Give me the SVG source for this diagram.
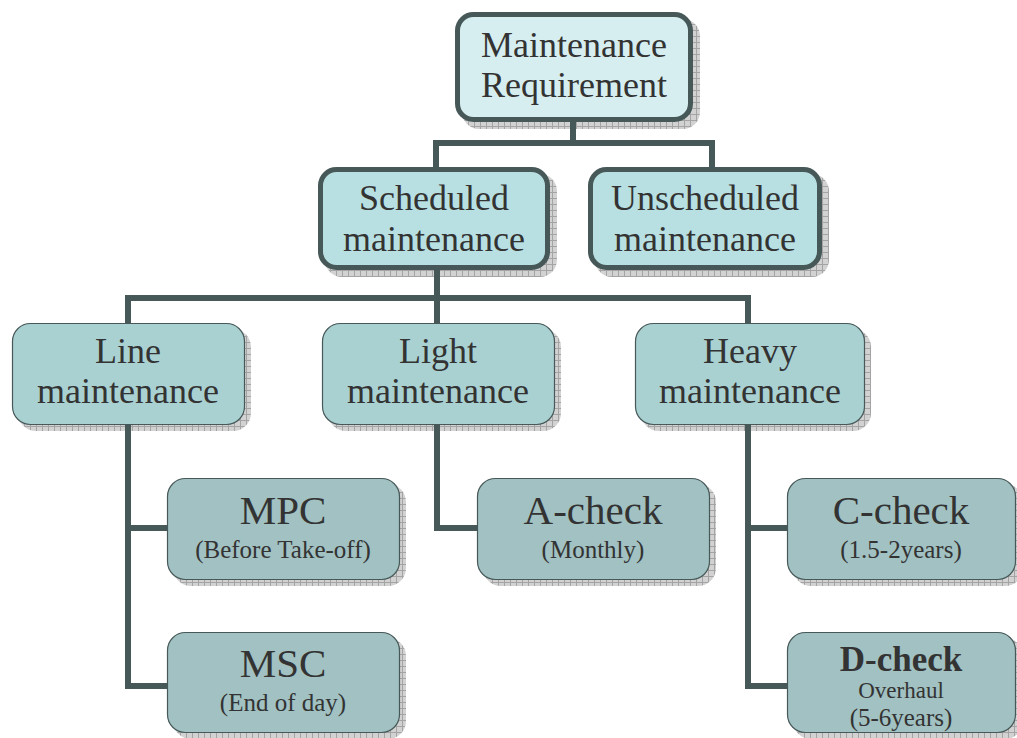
<svg xmlns="http://www.w3.org/2000/svg" width="1017" height="738" viewBox="0 0 1017 738">
  <defs>
    <!-- cross-hatched grey used for the drop shadows -->
    <pattern id="hatch" width="6" height="6" patternUnits="userSpaceOnUse">
      <rect width="6" height="6" fill="#d2d2d2"/>
      <path d="M0 0.5 H6 M0.5 0 V6" stroke="#a4a4a4" stroke-width="1"/>
    </pattern>
    <style>
      .shadow { fill: url(#hatch); }
      .conn { fill: none; stroke: #475858; stroke-width: 6; stroke-linejoin: miter; }
      .lv1 { fill: #d6eef0; stroke: #475858; stroke-width: 5; }
      .lv2 { fill: #b8e0e2; stroke: #475858; stroke-width: 5; }
      .lv3 { fill: #aad1d2; stroke: #475858; stroke-width: 1.2; }
      .lv4 { fill: #a1c1c2; stroke: #475858; stroke-width: 1.2; }
      text { font-family: "Liberation Serif", "Times New Roman", serif; fill: #333333; text-anchor: middle; }
      .t1 { font-size: 36px; }
      .big { font-size: 41px; }
      .sub { font-size: 25px; }
      .small { font-size: 23px; }
      .bold { font-size: 35px; font-weight: bold; }
    </style>
  </defs>

  <rect width="1017" height="738" fill="#ffffff"/>

  <!-- drop shadows, offset down and right -->
  <g id="shadows">
    <rect class="shadow" x="462" y="19" width="238" height="110" rx="17"/>
    <rect class="shadow" x="325" y="174" width="232" height="103" rx="17"/>
    <rect class="shadow" x="595" y="174" width="234" height="103" rx="17"/>
    <rect class="shadow" x="18" y="329" width="233" height="102" rx="18"/>
    <rect class="shadow" x="328" y="329" width="233" height="102" rx="18"/>
    <rect class="shadow" x="641" y="329" width="230" height="102" rx="18"/>
    <rect class="shadow" x="173" y="484" width="233" height="102" rx="18"/>
    <rect class="shadow" x="173" y="638" width="233" height="101" rx="18"/>
    <rect class="shadow" x="483" y="484" width="233" height="102" rx="18"/>
    <rect class="shadow" x="793" y="484" width="230" height="102" rx="18"/>
    <rect class="shadow" x="793" y="638" width="230" height="101" rx="18"/>
  </g>

  <!-- tree connectors -->
  <g id="connectors">
    <path class="conn" d="M573 118 V143 M436 170 V143 H712 V170"/>
    <path class="conn" d="M437 266 V326 M128 326 V298 H748 V326"/>
    <path class="conn" d="M128 422 V686 H170 M128 528 H170"/>
    <path class="conn" d="M437 422 V528 H480"/>
    <path class="conn" d="M748 422 V686 H790 M748 528 H790"/>
  </g>

  <g id="maintenance-requirement">
    <rect class="lv1" x="457.5" y="14.5" width="233" height="105" rx="16"/>
    <text class="t1" x="574" y="57">Maintenance</text>
    <text class="t1" x="574" y="97">Requirement</text>
  </g>

  <g id="scheduled-maintenance">
    <rect class="lv2" x="320.5" y="169.5" width="227" height="98" rx="16"/>
    <text class="t1" x="434" y="210">Scheduled</text>
    <text class="t1" x="434" y="251">maintenance</text>
  </g>

  <g id="unscheduled-maintenance">
    <rect class="lv2" x="590.5" y="169.5" width="229" height="98" rx="16"/>
    <text class="t1" x="705" y="210">Unscheduled</text>
    <text class="t1" x="705" y="251">maintenance</text>
  </g>

  <g id="line-maintenance">
    <rect class="lv3" x="12.5" y="323.5" width="232" height="101" rx="18"/>
    <text class="t1" x="128" y="363">Line</text>
    <text class="t1" x="128" y="403">maintenance</text>
  </g>

  <g id="light-maintenance">
    <rect class="lv3" x="322.5" y="323.5" width="232" height="101" rx="18"/>
    <text class="t1" x="438" y="363">Light</text>
    <text class="t1" x="438" y="403">maintenance</text>
  </g>

  <g id="heavy-maintenance">
    <rect class="lv3" x="635.5" y="323.5" width="229" height="101" rx="18"/>
    <text class="t1" x="750" y="363">Heavy</text>
    <text class="t1" x="750" y="403">maintenance</text>
  </g>

  <g id="mpc">
    <rect class="lv4" x="167.5" y="478.5" width="232" height="101" rx="18"/>
    <text class="big" x="283" y="524">MPC</text>
    <text class="sub" x="283" y="558">(Before Take-off)</text>
  </g>

  <g id="msc">
    <rect class="lv4" x="167.5" y="632.5" width="232" height="100" rx="18"/>
    <text class="big" x="283" y="677">MSC</text>
    <text class="sub" x="283" y="711">(End of day)</text>
  </g>

  <g id="a-check">
    <rect class="lv4" x="477.5" y="478.5" width="232" height="101" rx="18"/>
    <text class="big" x="593" y="524">A-check</text>
    <text class="sub" x="593" y="558">(Monthly)</text>
  </g>

  <g id="c-check">
    <rect class="lv4" x="787.5" y="478.5" width="228" height="101" rx="18"/>
    <text class="big" x="901" y="524">C-check</text>
    <text class="sub" x="901" y="558">(1.5-2years)</text>
  </g>

  <g id="d-check">
    <rect class="lv4" x="787.5" y="632.5" width="228" height="100" rx="18"/>
    <text class="bold" x="901" y="671">D-check</text>
    <text class="small" x="901" y="698">Overhaul</text>
    <text class="sub" x="901" y="726">(5-6years)</text>
  </g>
</svg>
